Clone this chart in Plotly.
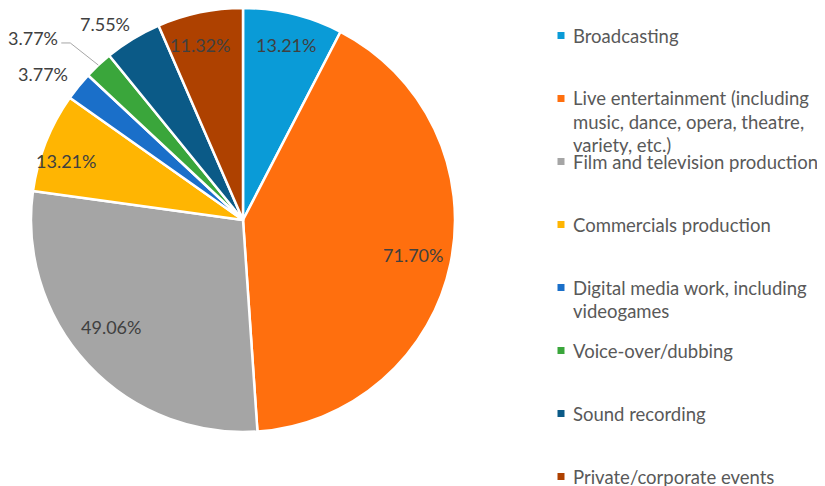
import math
import plotly.graph_objects as go

categories = [
    "Broadcasting",
    "Live entertainment (including<br>music, dance, opera, theatre,<br>variety, etc.)",
    "Film and television production",
    "Commercials production",
    "Digital media work, including<br>videogames",
    "Voice-over/dubbing",
    "Sound recording",
    "Private/corporate events",
]
values = [13.21, 71.70, 49.06, 13.21, 3.77, 3.77, 7.55, 11.32]
value_labels = ["13.21%", "71.70%", "49.06%", "13.21%", "3.77%", "3.77%", "7.55%", "11.32%"]

colors = ["#0A9BD7", "#FF6F0E", "#A5A5A5", "#FFB502", "#1A6FC9", "#3AA63B", "#0B5A87", "#AE4100"]

OFF = 8  # page body margin
W, H = 825 - OFF, 486 - OFF
CX, CY, R = 243 - OFF, 220 - OFF, 212
# per-label placement style: (angle offset deg, radius factor, leader line)
label_style = [
    (0, 0.85, False), (0, 0.82, False), (4, 0.80, False), (-3, 0.88, False),
    (-3, 1.17, False), (-6, 1.31, True), (-4, 1.13, False), (-2, 0.85, False),
]


def px2paper(x, y):
    return x / W, 1 - y / H


fig = go.Figure(go.Pie(
    labels=[c.replace("<br>", " ") for c in categories],
    values=values,
    sort=False,
    direction="clockwise",
    rotation=0,
    marker=dict(colors=colors, line=dict(color="white", width=2.5)),
    textinfo="none",
    hoverinfo="label+value",
    showlegend=False,
    domain=dict(x=[(CX - R) / W, (CX + R) / W], y=[max(0, 1 - (CY + R) / H), min(1, 1 - (CY - R) / H)]),
))

annotations = []
total = sum(values)
cum = 0.0
for i, v in enumerate(values):
    mid = (cum + v / 2) / total * 360
    cum += v
    dth, rf, leader = label_style[i]
    a = math.radians(mid + dth)
    lx = CX + rf * R * math.sin(a)
    ly = CY - rf * R * math.cos(a)
    px, py = px2paper(lx, ly)
    annotations.append(dict(
        x=px, y=py, xref="paper", yref="paper", text=value_labels[i],
        xanchor="center", yanchor="middle",
        showarrow=False, font=dict(family="Lato", size=18, color="#404040"),
    ))
    if leader:
        am = math.radians(mid)
        ex = CX + R * math.sin(am)
        ey = CY - R * math.cos(am)
        sy = ly + 5
        fig.add_shape(type="path", xref="paper", yref="paper",
                      path=f"M {(lx + 28) / W} {1 - sy / H} L {(lx + 37) / W} {1 - sy / H} L {ex / W} {1 - ey / H}",
                      line=dict(color="#A6A6A6", width=1))

# legend drawn as text + square markers
LINE_GAP = 23.2
for i, cat in enumerate(categories):
    y0 = 35.5 + 63.0 * i - OFF
    for j, line in enumerate(cat.split("<br>")):
        px, py = px2paper(571 - OFF, y0 + j * LINE_GAP)
        annotations.append(dict(
            x=px, y=py, xref="paper", yref="paper", text=line, align="left",
            xanchor="left", yanchor="middle", showarrow=False,
            font=dict(family="Lato", size=18.5, color="#595959"),
        ))
    fig.add_shape(type="rect", xref="paper", yref="paper",
                  x0=(557.5 - OFF) / W, x1=(564.5 - OFF) / W,
                  y0=1 - (y0 + 3.5) / H, y1=1 - (y0 - 3.5) / H,
                  fillcolor=colors[i], line=dict(width=0))

fig.update_layout(
    width=W, height=H,
    margin=dict(l=0, r=0, t=0, b=0),
    paper_bgcolor="white", plot_bgcolor="white",
    annotations=annotations,
)
fig.write_html("out.html")
